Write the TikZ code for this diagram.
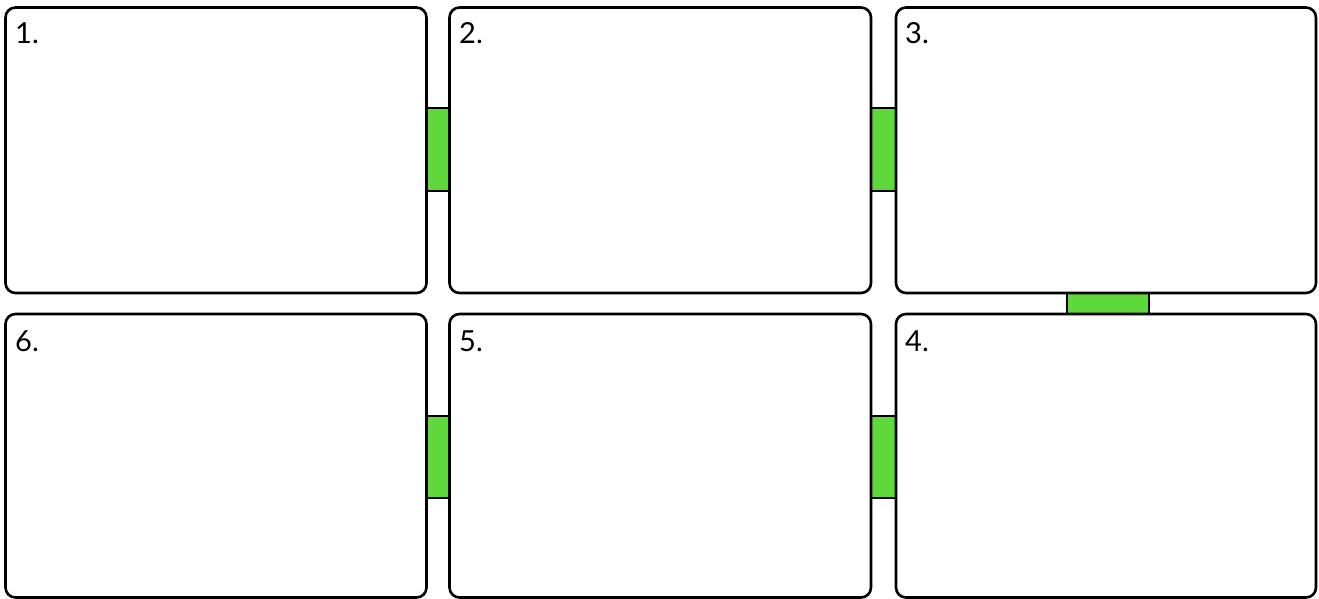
\documentclass[tikz,border=0pt]{standalone}
\usepackage{fontspec}
\setmainfont{Lato}
\begin{document}
\begin{tikzpicture}[x=1pt,y=-1pt,
  panel/.style={draw=black,line width=2.6pt,rounded corners=10pt,fill=white},
  link/.style={draw=black,line width=2pt,fill=linkgreen},
  num/.style={anchor=base west,font=\fontsize{29}{32}\selectfont,inner sep=0pt}]
\definecolor{linkgreen}{RGB}{94,216,58}
\useasboundingbox (0,0) rectangle (1319,599);
% connectors
\draw[link] (426,108) rectangle (450,191) node[pos=0,inner sep=0pt] (g12) {};
\draw[link] (870,108) rectangle (897,191) node[pos=0,inner sep=0pt] (g23) {};
\draw[link] (1067,292) rectangle (1149,315) node[pos=0,inner sep=0pt] (g34) {};
\draw[link] (870,416) rectangle (897,498) node[pos=0,inner sep=0pt] (g45) {};
\draw[link] (426,416) rectangle (450,498) node[pos=0,inner sep=0pt] (g56) {};
% panels
\draw[panel] (5.5,7.5) rectangle (426.5,293) node[pos=0,inner sep=0pt] (p1) {};
\draw[panel] (449.5,7.5) rectangle (871,293) node[pos=0,inner sep=0pt] (p2) {};
\draw[panel] (896,7.5) rectangle (1316,293) node[pos=0,inner sep=0pt] (p3) {};
\draw[panel] (896,314) rectangle (1316,597.5) node[pos=0,inner sep=0pt] (p4) {};
\draw[panel] (449.5,314) rectangle (871,597.5) node[pos=0,inner sep=0pt] (p5) {};
\draw[panel] (5.5,314) rectangle (426.5,597.5) node[pos=0,inner sep=0pt] (p6) {};
% labels
\node[num] (l1) at (15,44) {1.};
\node[num] (l2) at (459,44) {2.};
\node[num] (l3) at (905,44) {3.};
\node[num] (l6) at (15,351) {6.};
\node[num] (l5) at (459,351) {5.};
\node[num] (l4) at (905,351) {4.};
\end{tikzpicture}
\end{document}
